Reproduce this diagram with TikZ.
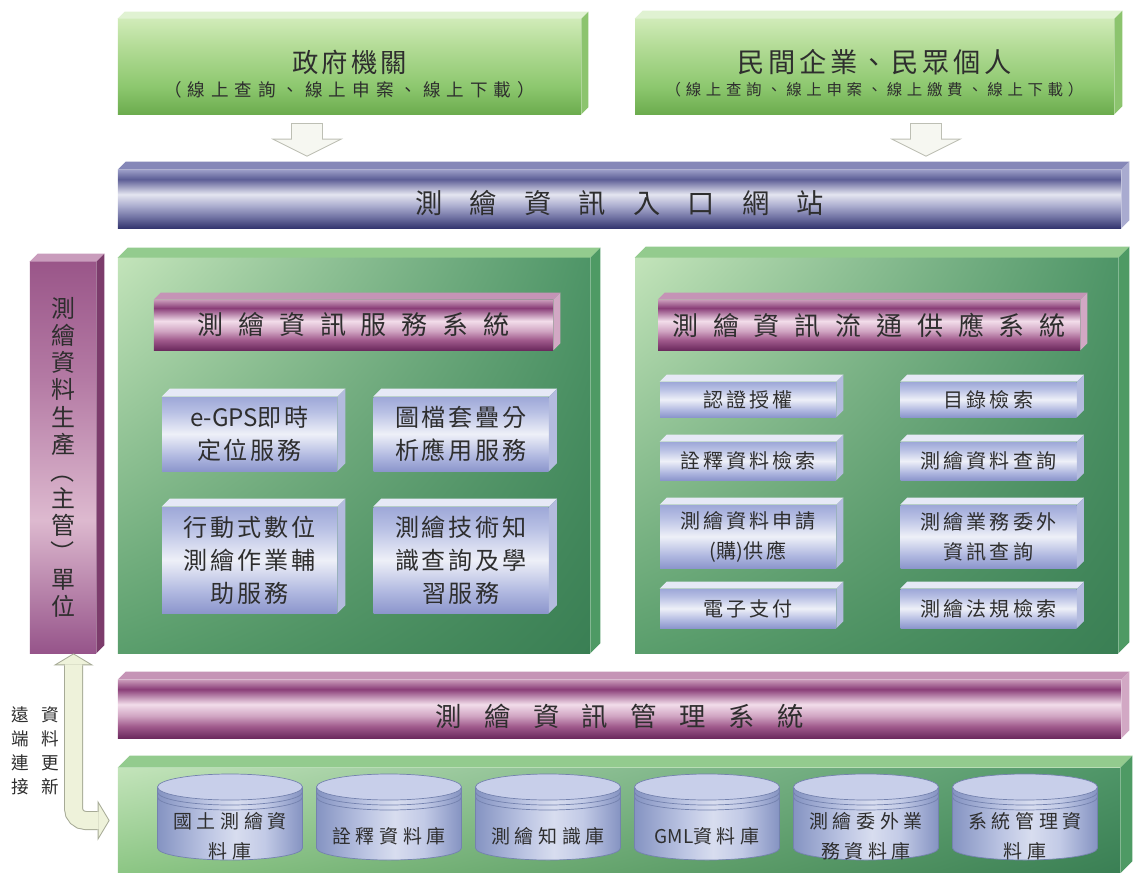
\documentclass[tikz,border=0pt]{standalone}
\usepackage{fontspec}
\usepackage{xcolor}
\usepackage{tikz}
\usetikzlibrary{arrows.meta,positioning,calc,shadings}
\newfontfamily\cjk{Noto Sans CJK TC}
\newcommand\vparen[1]{\rotatebox[origin=c]{-90}{#1}}
\newcommand\tight[1]{{\addfontfeatures{LetterSpace=0}#1}}

\definecolor{ink}{HTML}{2E2E2E}
\definecolor{leaftop}{HTML}{E0F2D2}
\definecolor{leafside}{HTML}{8CC46E}
\definecolor{navytop}{HTML}{8587B8}
\definecolor{navyside}{HTML}{A9ABD0}
\definecolor{plumtop}{HTML}{C594B6}
\definecolor{plumside}{HTML}{D2A8C4}
\definecolor{sidetop}{HTML}{C99CBC}
\definecolor{sideside}{HTML}{7C3C6C}
\definecolor{paneltop}{HTML}{93CB8E}
\definecolor{panelside}{HTML}{4E9A64}
\definecolor{steeltop}{HTML}{E6E9F6}
\definecolor{steelside}{HTML}{B3BBDE}
\definecolor{drumtop}{HTML}{C8CFEA}
\definecolor{drumline}{HTML}{7482AE}
\definecolor{arrowline}{HTML}{BDBFB4}
\definecolor{arrowfill}{HTML}{F6F7F1}
\definecolor{syncline}{HTML}{A6AA96}
\definecolor{syncfill}{HTML}{EEF2DA}
\definecolor{panelUL}{HTML}{C3E4BA}
\definecolor{panelUR}{HTML}{4E9567}
\definecolor{panelLL}{HTML}{5A9E6C}
\definecolor{panelLR}{HTML}{3A7F54}
\definecolor{baseLL}{HTML}{8CC684}
% shading stops
\definecolor{leafA}{HTML}{6CAC4E}
\definecolor{leafB}{HTML}{8EC870}
\definecolor{leafC}{HTML}{B2DB95}
\definecolor{leafD}{HTML}{D0EBB8}
\definecolor{navyA}{HTML}{34366F}
\definecolor{navyB}{HTML}{7476A6}
\definecolor{navyC}{HTML}{AAACCE}
\definecolor{navyD}{HTML}{E4E5F0}
\definecolor{navyE}{HTML}{5C5E96}
\definecolor{navyF}{HTML}{9A9CC6}
\definecolor{plumA}{HTML}{6C2A5E}
\definecolor{plumB}{HTML}{A05A8C}
\definecolor{plumC}{HTML}{D0A4C2}
\definecolor{plumD}{HTML}{F2DDEA}
\definecolor{plumE}{HTML}{8A3E78}
\definecolor{plumF}{HTML}{C898B8}
\definecolor{steelA}{HTML}{8C96CC}
\definecolor{steelB}{HTML}{B0B8E0}
\definecolor{steelC}{HTML}{EEF0F8}
\definecolor{steelD}{HTML}{B8C0E4}
\definecolor{steelE}{HTML}{9EA8D8}
\definecolor{mauveA}{HTML}{96548A}
\definecolor{mauveB}{HTML}{DDB9CF}
\definecolor{mauveC}{HTML}{B47AA4}
\definecolor{mauveD}{HTML}{9A5689}
\definecolor{drumA}{HTML}{8593C2}
\definecolor{drumB}{HTML}{BCC5E3}
\definecolor{drumC}{HTML}{D8DDEF}
\definecolor{drumD}{HTML}{C2CAE6}

\pgfdeclareverticalshading{leafsh}{100bp}{color(0bp)=(leafA); color(25bp)=(leafA); color(40bp)=(leafB); color(60bp)=(leafC); color(75bp)=(leafD); color(100bp)=(leafD)}
\pgfdeclareverticalshading{navysh}{100bp}{color(0bp)=(navyA); color(25bp)=(navyA); color(35bp)=(navyB); color(44bp)=(navyC); color(54bp)=(navyD); color(67bp)=(navyE); color(75bp)=(navyF); color(100bp)=(navyF)}
\pgfdeclareverticalshading{plumsh}{100bp}{color(0bp)=(plumA); color(25bp)=(plumA); color(35bp)=(plumB); color(44bp)=(plumC); color(54bp)=(plumD); color(67bp)=(plumE); color(75bp)=(plumF); color(100bp)=(plumF)}
\pgfdeclareverticalshading{steelsh}{100bp}{color(0bp)=(steelA); color(25bp)=(steelA); color(35bp)=(steelB); color(50bp)=(steelC); color(65bp)=(steelD); color(75bp)=(steelE); color(100bp)=(steelE)}
\pgfdeclareverticalshading{mauvesh}{100bp}{color(0bp)=(mauveA); color(25bp)=(mauveA); color(42bp)=(mauveB); color(60bp)=(mauveC); color(75bp)=(mauveD); color(100bp)=(mauveD)}
\pgfdeclarehorizontalshading{drumsh}{100bp}{color(0bp)=(drumA); color(25bp)=(drumA); color(42bp)=(drumB); color(52bp)=(drumC); color(62bp)=(drumD); color(75bp)=(drumA); color(100bp)=(drumA)}

\tikzset{
  block/.style={rectangle, inner sep=0pt, text=ink, shade},
  leafbar/.style={block, shading=leafsh},
  navytube/.style={block, shading=navysh},
  plumtube/.style={block, shading=plumsh},
  mauvebar/.style={block, shading=mauvesh, align=center, font=\cjk\fontsize{13.6}{15.4}\selectfont},
  panel/.style={block, upper left=panelUL, upper right=panelUR, lower left=panelLL, lower right=panelLR},
  svcbox/.style={block, shading=steelsh, minimum width=35mm, align=center, font=\cjk\fontsize{13.7}{18.8}\selectfont\addfontfeatures{LetterSpace=12}},
  flowbox/.style={block, shading=steelsh, minimum width=35.2mm, align=center, font=\cjk\fontsize{11.4}{17}\selectfont\addfontfeatures{LetterSpace=15}},
  headtext/.style={font=\cjk\fontsize{14.8}{18}\selectfont\addfontfeatures{LetterSpace=57}},
  spaced/.style 2 args={text=ink, font=\cjk\fontsize{#1}{#1}\selectfont\addfontfeatures{LetterSpace=#2}},
  drumtext/.style={align=center, text=ink, font=\cjk\fontsize{10.8}{17}\selectfont\addfontfeatures{LetterSpace=24}},
  notetext/.style={align=center, text=ink, font=\cjk\fontsize{10}{13.7}\selectfont},
  flowarrow/.style={draw=arrowline, line width=6.4mm, shorten >=2.6mm,
    -{Triangle[length=3.6mm, width=14.4mm, line width=0pt]},
    postaction={draw=arrowfill, line width=6mm, shorten >=2.82mm, shorten <=0.2mm,
      -{Triangle[length=3.18mm, width=12.7mm, line width=0pt]}}},
  syncarrow/.style={draw=syncline, line width=3.8mm, rounded corners=2.4mm,
    {Triangle[length=2.4mm, width=8mm, line width=0pt]}-{Triangle[length=2.4mm, width=8mm, line width=0pt]},
    postaction={draw=syncfill, line width=3.4mm, shorten <=0.23mm, shorten >=0.23mm,
      {Triangle[length=1.97mm, width=6.56mm, line width=0pt]}-{Triangle[length=1.97mm, width=6.56mm, line width=0pt]}}}
}

\begin{document}
\begin{tikzpicture}[x=0.2mm, y=-0.2mm]
  \useasboundingbox[fill=white] (0,0) rectangle (1133,873);

  % users
  \node[leafbar, minimum width=92.6mm, minimum height=19mm,
        label={[spaced={15}{12}, yshift=0.9mm]center:政府機關},
        label={[spaced={10}{34}, yshift=-4.7mm]center:（線上查詢、線上申案、線上下載）}] (gov) at (349.5,66.5) {};
  \node[leafbar, minimum width=95.8mm, minimum height=19mm,
        label={[spaced={15.5}{13}, yshift=0.9mm]center:民間企業、民眾個人},
        label={[spaced={8.8}{30}, yshift=-4.7mm]center:（線上查詢、線上申案、線上繳費、線上下載）}] (pub) at (874.5,66.5) {};

  % portal
  \node[navytube, minimum width=200.6mm, minimum height=11.6mm,
        label={[spaced={15.5}{100}, yshift=-0.8mm]center:測繪資訊入口網站}] (portal) at (619.5,199) {};

  % producer unit
  \node[mauvebar, minimum width=13.2mm, minimum height=78.2mm] (side) at (63,457.5)
    {測\\繪\\資\\料\\生\\產\\\vparen{（}\\主\\管\\\vparen{）}\\單\\位};

  % service system
  \node[panel, minimum width=94.4mm, minimum height=79mm] (svcpanel) at (354,455.5) {};
  \node[plumtube, headtext, minimum width=79.8mm, minimum height=10mm] (svchead) at (353.5,325) {測繪資訊服務系統};
  \node[svcbox, minimum height=14.8mm] (egps) at (249.5,434) {\tight{e-GPS}即時\\定位服務};
  \node[svcbox, minimum height=14.8mm] (overlay) at (461,434) {圖檔套疊分\\析應用服務};
  \node[svcbox, minimum height=21.2mm] (mobile) at (249.5,560) {行動式數位\\測繪作業輔\\助服務};
  \node[svcbox, minimum height=21.2mm] (knowhow) at (461,560) {測繪技術知\\識查詢及學\\習服務};

  % supply system
  \node[panel, minimum width=96.6mm, minimum height=79mm] (flowpanel) at (876.5,455.5) {};
  \node[plumtube, headtext, minimum width=84.4mm, minimum height=10mm] (flowhead) at (869,325) {測繪資訊流通供應系統};
  \node[flowbox, minimum height=7mm] (auth) at (748,399.5) {認證授權};
  \node[flowbox, minimum height=7mm] (catalog) at (988.5,399.5) {目錄檢索};
  \node[flowbox, minimum height=7.6mm] (meta) at (748,461) {詮釋資料檢索};
  \node[flowbox, minimum height=7.6mm] (query) at (988.5,461) {測繪資料查詢};
  \node[flowbox, minimum height=12.6mm] (apply) at (748,536.5) {測繪資料申請\\\tight{(}購\tight{)}供應};
  \node[flowbox, minimum height=12.6mm] (outsrc) at (988.5,536.5) {測繪業務委外\\資訊查詢};
  \node[flowbox, minimum height=7.8mm] (pay) at (748,608.5) {電子支付};
  \node[flowbox, minimum height=7.8mm] (law) at (988.5,608.5) {測繪法規檢索};

  % management
  \node[plumtube, minimum width=200.6mm, minimum height=11.6mm,
        label={[spaced={15}{85}, yshift=-1.4mm]center:測繪資訊管理系統}] (mgmt) at (619.5,709) {};
  \node[panel, lower left=baseLL, minimum width=200.4mm, minimum height=21mm] (base) at (619,820.5) {};

  % 3d faces
  \foreach \n/\dep/\tc/\rc in {gov/7/leaftop/leafside, pub/8/leaftop/leafside, portal/8/navytop/navyside,
      side/8/sidetop/sideside, svcpanel/10/paneltop/panelside, flowpanel/11/paneltop/panelside,
      mgmt/8/plumtop/plumside, base/12/paneltop/panelside, svchead/7/plumtop/plumside, flowhead/7/plumtop/plumside,
      egps/8/steeltop/steelside, overlay/8/steeltop/steelside, mobile/8/steeltop/steelside, knowhow/8/steeltop/steelside,
      auth/7/steeltop/steelside, catalog/7/steeltop/steelside, meta/7/steeltop/steelside, query/7/steeltop/steelside,
      apply/7/steeltop/steelside, outsrc/7/steeltop/steelside, pay/7/steeltop/steelside, law/7/steeltop/steelside}
  {
    \fill[\tc] (\n.north west) -- ++(\dep,-\dep) -- ([shift={(\dep,-\dep)}]\n.north east) -- (\n.north east) -- cycle;
    \fill[\rc] (\n.north east) -- ++(\dep,-\dep) -- ([shift={(\dep,-\dep)}]\n.south east) -- (\n.south east) -- cycle;
  }

  % databases
  \foreach \i/\dbname in {1/{國土測繪資\\料庫}, 2/詮釋資料庫, 3/測繪知識庫, 4/{\tight{GML}資料庫}, 5/{測繪委外業\\務資料庫}, 6/{系統管理資\\料庫}}
  {
    \pgfmathsetmacro\cx{71+159*\i}
    \shade[shading=drumsh, draw=drumline] (\cx-72.5,787) -- (\cx-72.5,848)
      arc[start angle=180, end angle=0, x radius=72.5, y radius=12] -- (\cx+72.5,787) -- cycle;
    \draw[fill=drumtop, draw=drumline] (\cx,787) ellipse [x radius=72.5, y radius=13];
    \foreach \r in {5,10}
      \draw[drumline] (\cx-72.5,787+\r) arc[start angle=180, end angle=0, x radius=72.5, y radius=13];
    \node[drumtext] (db\i) at (\cx,836) {\dbname};
  }

  % arrows
  \coordinate (govdrop) at ([xshift=-8.5mm,yshift=-1.8mm]gov.south);
  \coordinate (pubdrop) at ([xshift=10.3mm,yshift=-1.8mm]pub.south);
  \draw[flowarrow] (govdrop) -- (govdrop |- portal.north);
  \draw[flowarrow] (pubdrop) -- (pubdrop |- portal.north);
  \draw[syncarrow] ([xshift=2.1mm]side.south) |- ([xshift=-1.6mm]base.west);

  \node[notetext] (renew) at (50,751) {資\\料\\更\\新};
  \node[notetext] (remote) at (20,751) {遠\\端\\連\\接};
\end{tikzpicture}
\end{document}
